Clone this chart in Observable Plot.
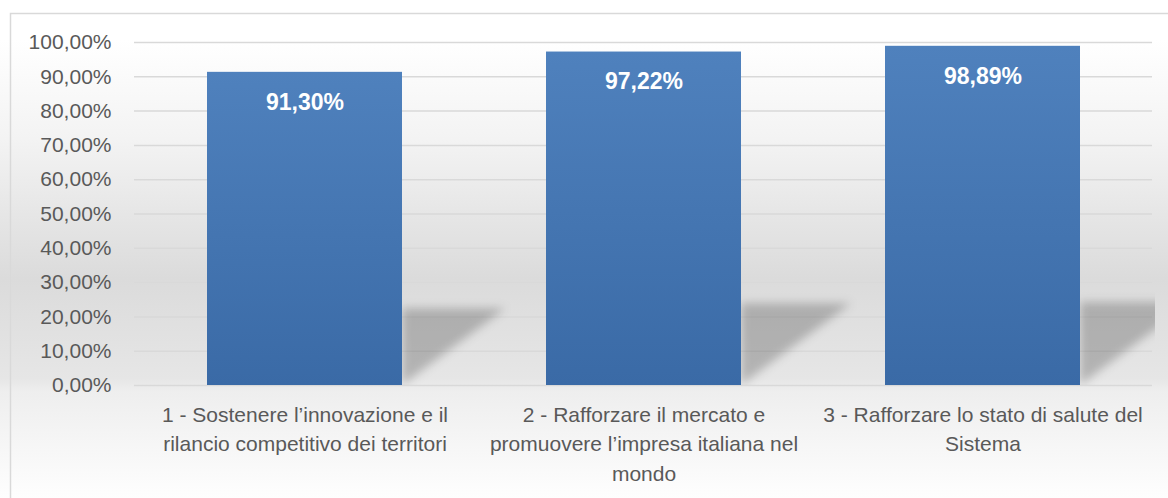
<!DOCTYPE html>
<html><head><meta charset="utf-8">
<script src="https://cdn.jsdelivr.net/npm/d3@7"></script>
<script src="https://cdn.jsdelivr.net/npm/@observablehq/plot@0.6"></script>
<style>body{margin:0;background:#fff;font-family:"Liberation Sans",Arial,sans-serif}</style>
</head><body><div id="chart"></div>
<script>
const categories = ["c1", "c2", "c3"];
const categoryLabels = [
  "1 - Sostenere l’innovazione e il\nrilancio competitivo dei territori",
  "2 - Rafforzare il mercato e\npromuovere l’impresa italiana nel\nmondo",
  "3 - Rafforzare lo stato di salute del\nSistema"
];
const values = [0.9130, 0.9722, 0.9889];
const yTicks = [0, 0.1, 0.2, 0.3, 0.4, 0.5, 0.6, 0.7, 0.8, 0.9, 1.0];

const it = d3.formatLocale({decimal: ",", thousands: ".", grouping: [3], currency: ["", "€"]});
const pct = it.format(".2%");
const data = categories.map((c, i) => ({cat: c, value: values[i], label: categoryLabels[i]}));
const labelOf = new Map(data.map(d => [d.cat, d.label]));

const W = 1168, H = 498;
const svgNS = "http://www.w3.org/2000/svg";
function el(name, attrs) {
  const e = document.createElementNS(svgNS, name);
  for (const k in attrs) e.setAttribute(k, attrs[k]);
  return e;
}

// background + defs
function background(index, scales, vals, dim) {
  const g = el("g", {});
  const defs = el("defs", {});
  const bg = el("linearGradient", {id: "bgGrad", x1: 0, y1: 0, x2: 0, y2: 1});
  [["0%", "#ffffff"], ["8%", "#ffffff"], ["28%", "#f3f3f3"], ["56%", "#dbdbdb"], ["76%", "#e6e6e6"], ["78.5%", "#eeeeee"], ["100%", "#fefefe"]]
    .forEach(([o, c]) => bg.appendChild(el("stop", {offset: o, "stop-color": c})));
  const bar = el("linearGradient", {id: "barGrad", x1: 0, y1: 0, x2: 0, y2: 1});
  [["0%", "#4f81bd"], ["100%", "#3a6aa6"]].forEach(([o, c]) => bar.appendChild(el("stop", {offset: o, "stop-color": c})));
  const blur = el("filter", {id: "soft", x: "-30%", y: "-30%", width: "160%", height: "160%"});
  blur.appendChild(el("feGaussianBlur", {stdDeviation: 5}));
  const clip = el("clipPath", {id: "plotClip"});
  clip.appendChild(el("rect", {x: dim.marginLeft, y: 0, width: dim.width - dim.marginLeft - dim.marginRight + 3, height: dim.height - dim.marginBottom}));
  defs.append(bg, bar, blur, clip);
  g.appendChild(defs);
  g.appendChild(el("rect", {x: 0, y: 0, width: dim.width, height: dim.height, fill: "url(#bgGrad)"}));
  g.appendChild(el("rect", {x: 10.5, y: 13.5, width: dim.width, height: dim.height, fill: "none", stroke: "#d9d9d9", "stroke-width": 1.5}));
  return g;
}

// perspective shadows derived from bar values via scales
function shadows(index, scales) {
  const sx = scales.x, sy = scales.y;
  const bw = typeof sx.bandwidth === "function" ? sx.bandwidth() : sx.bandwidth;
  const g = el("g", {"clip-path": "url(#plotClip)"});
  const inner = el("g", {filter: "url(#soft)"});
  data.forEach(d => {
    const xr = sx(d.cat) + bw;
    const y0 = sy(0), hpx = y0 - sy(d.value);
    const top = y0 - hpx * 0.245, w = hpx * 0.33;
    inner.appendChild(el("polygon", {
      points: `${xr},${y0} ${xr},${top} ${xr + w},${top}`,
      fill: "#000", "fill-opacity": 0.22
    }));
  });
  g.appendChild(inner);
  return g;
}

const chart = Plot.plot({
  width: W, height: H,
  marginLeft: 134, marginRight: 16, marginTop: 42, marginBottom: 113,
  style: {fontFamily: "'Liberation Sans', Arial, sans-serif", background: "transparent"},
  x: {domain: categories, paddingInner: 0.425, paddingOuter: 0.2125, label: null},
  y: {domain: [0, 1], label: null},
  marks: [
    background,
    Plot.gridY(yTicks, {stroke: "#d9d9d9", strokeOpacity: 1, strokeWidth: 1.5}),
    shadows,
    Plot.barY(data, {x: "cat", y: "value", fill: "url(#barGrad)"}),
    Plot.text(data, {x: "cat", y: "value", text: d => pct(d.value), dy: 30, fill: "white", fontWeight: "bold", fontSize: 23}),
    Plot.axisY(yTicks, {tickFormat: pct, tickSize: 0, tickPadding: 23, fontSize: 21, fill: "#595959", label: null}),
    Plot.axisX({tickFormat: c => labelOf.get(c), tickSize: 0, tickPadding: 15, fontSize: 21, lineHeight: 1.42, fill: "#595959", label: null})
  ]
});
document.getElementById("chart").appendChild(chart);
</script>
</body></html>
